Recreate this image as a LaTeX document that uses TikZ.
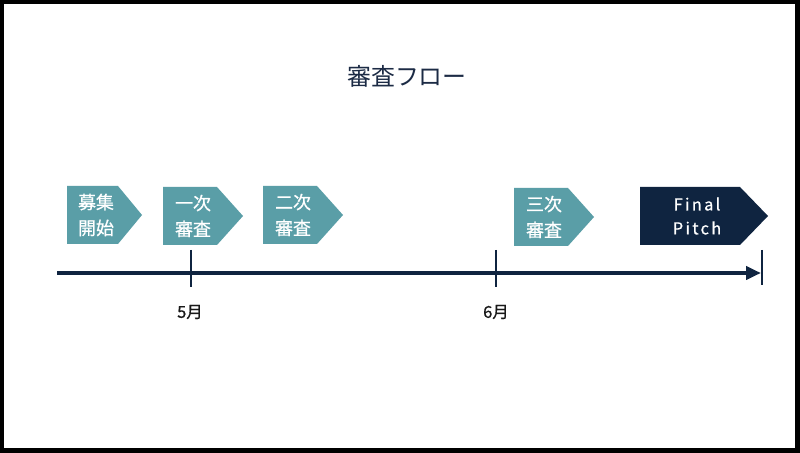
\documentclass[tikz,border=0pt]{standalone}
\usepackage{fontspec}
\setmainfont{Noto Sans CJK JP}
\newfontfamily\medfont[FakeBold=0.8]{Noto Sans CJK JP}
\newfontfamily\latinsp[LetterSpace=14,FakeBold=0.6]{Noto Sans CJK JP}
\usetikzlibrary{arrows.meta}
\definecolor{teal1}{HTML}{5A9EA7}
\definecolor{navy1}{HTML}{0F2440}
\definecolor{titlec}{HTML}{1C2B45}
\tikzset{
  x=1bp, y=-1bp,
  stagebox/.style={fill=teal1, draw=none},
  finalbox/.style={fill=navy1, draw=none},
  stagetext/.style={text=white, font=\medfont\fontsize{18}{26}\selectfont, align=center, inner sep=0pt},
  monthlabel/.style={text=black!90, font=\medfont\fontsize{16.5}{18}\selectfont, inner sep=0pt},
  tickline/.style={draw=navy1, line width=1.6bp},
}
\begin{document}
\begin{tikzpicture}
\useasboundingbox (0,0) rectangle (800,453);
\fill[white] (0,0) rectangle (800,453);
\draw[black, line width=4.5bp] (2,1.5) rectangle (797.5,450.5);

% title
\node[text=titlec, font=\fontsize{24}{28}\selectfont, inner sep=0pt] (title) at (407,76) {審査フロー};

% timeline
\coordinate (tlstart) at (57,273);
\coordinate (tlend) at (761,273);
\draw[navy1, line width=4bp, -{Triangle[length=15bp,width=13bp]}] (tlstart) -- (tlend);
\coordinate (t1a) at (191,250); \coordinate (t1b) at (191,287);
\coordinate (t2a) at (496,250); \coordinate (t2b) at (496,287);
\coordinate (t3a) at (762,250); \coordinate (t3b) at (762,285);
\draw[tickline] (t1a) -- (t1b);
\draw[tickline] (t2a) -- (t2b);
\draw[tickline] (t3a) -- (t3b);
\node[monthlabel] (m5) at (190,312) {5月};
\node[monthlabel] (m6) at (496,312) {6月};

% stage shapes
\fill[stagebox] (67,186) -- (118,186) -- (142,215) -- (118,244) -- (67,244) -- cycle;
\node[stagetext] (s1) at (96,215) {募集\\開始};

\fill[stagebox] (163,187) -- (217,187) -- (243,216) -- (217,245) -- (163,245) -- cycle;
\node[stagetext] (s2) at (193,216) {一次\\審査};

\fill[stagebox] (263,186) -- (317,186) -- (343,215) -- (317,244) -- (263,244) -- cycle;
\node[stagetext] (s3) at (293,215) {二次\\審査};

\fill[stagebox] (514,188) -- (568,188) -- (594,217) -- (568,246) -- (514,246) -- cycle;
\node[stagetext] (s4) at (544,217) {三次\\審査};

\fill[finalbox] (640,187) -- (740,187) -- (768,216) -- (740,245) -- (640,245) -- cycle;
\node[stagetext, font=\latinsp\fontsize{16.5}{24}\selectfont] (s5) at (697,216) {Final\\Pitch};
\end{tikzpicture}
\end{document}
